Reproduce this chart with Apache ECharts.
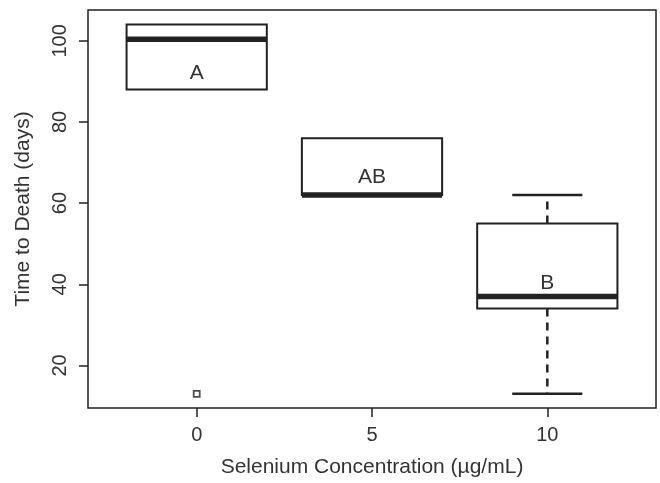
<!DOCTYPE html>
<html>
<head>
    <meta charset="utf-8">
    <title>Time to Death by Selenium Concentration</title>
    <style type="text/css">
        html, body { margin: 0; padding: 0; background: #fff; }
        #page { width: 660px; height: 483px; }
    </style>
</head>
<body>

<div id="page"></div>

<script src="https://cdn.jsdelivr.net/npm/echarts@6/dist/echarts.min.js"></script>
<script>
    // 数据：硒浓度分组的箱线图
    var concentrations = [0, 5, 10];
    var whiskerLow = [88, 62, 13];
    var q1 = [88, 62, 34];
    var medians = [100.4, 62, 37];
    var q3 = [104, 76, 55];
    var whiskerHigh = [104, 76, 62];
    var groupLetters = ['A', 'AB', 'B'];
    var letterY = [92, 66.5, 40.2];
    var outliers = [[0, 13]];

    var xTicks = [0, 5, 10];
    var yTicks = [20, 40, 60, 80, 100];

    (function () {
        var ink = '#222';
        var textColor = '#333';
        var font = 'Liberation Sans, Arial, sans-serif';

        var boxData = concentrations.map(function (c, i) {
            return [c, whiskerLow[i], q1[i], medians[i], q3[i], whiskerHigh[i], letterY[i], groupLetters[i]];
        });

        function renderBox(params, api) {
            var x = api.value(0);
            var lo = api.value(1), b1 = api.value(2), med = api.value(3), b3 = api.value(4), hi = api.value(5);
            var half = 2, capHalf = 1;
            var tl = api.coord([x - half, b3]);
            var br = api.coord([x + half, b1]);
            var children = [];

            // 须线（虚线）和端线
            function whisker(from, to) {
                var a = api.coord([x, from]), b = api.coord([x, to]);
                var c1 = api.coord([x - capHalf, to]), c2 = api.coord([x + capHalf, to]);
                children.push({
                    type: 'line',
                    shape: {x1: a[0], y1: a[1], x2: b[0], y2: b[1]},
                    style: {stroke: ink, lineWidth: 2.5, lineDash: [8, 6]}
                });
                children.push({
                    type: 'line',
                    shape: {x1: c1[0], y1: c1[1], x2: c2[0], y2: c2[1]},
                    style: {stroke: ink, lineWidth: 2.5}
                });
            }
            if (hi > b3) whisker(b3, hi);
            if (lo < b1) whisker(b1, lo);

            children.push({
                type: 'rect',
                shape: {x: tl[0], y: tl[1], width: br[0] - tl[0], height: br[1] - tl[1]},
                style: {fill: '#fff', stroke: ink, lineWidth: 2}
            });

            var m1 = api.coord([x - half, med]), m2 = api.coord([x + half, med]);
            children.push({
                type: 'line',
                shape: {x1: m1[0], y1: m1[1], x2: m2[0], y2: m2[1]},
                style: {stroke: ink, lineWidth: 5.5}
            });

            var lp = api.coord([x, api.value(6)]);
            children.push({
                type: 'text',
                x: lp[0],
                y: lp[1],
                style: {
                    text: groupLetters[params.dataIndex],
                    fill: textColor,
                    font: '21px ' + font,
                    align: 'center',
                    verticalAlign: 'middle'
                }
            });

            return {type: 'group', children: children};
        }

        var myChart = echarts.init(document.getElementById('page'));
        var option = {
            animation: false,
            backgroundColor: '#fff',
            grid: {
                left: 88,
                right: 4,
                top: 10,
                bottom: 75,
                show: true,
                borderColor: ink,
                borderWidth: 1.5,
                backgroundColor: 'transparent'
            },
            xAxis: {
                type: 'value',
                min: -3.1,
                max: 13.1,
                name: 'Selenium Concentration (µg/mL)',
                nameLocation: 'middle',
                nameGap: 49,
                nameTextStyle: {fontSize: 21, color: textColor, fontFamily: font},
                axisLine: {show: false, onZero: false},
                splitLine: {show: false},
                axisTick: {
                    show: true,
                    length: 9,
                    customValues: xTicks,
                    lineStyle: {color: ink, width: 1.5}
                },
                axisLabel: {
                    customValues: xTicks,
                    margin: 17,
                    fontSize: 20,
                    color: textColor,
                    fontFamily: font
                }
            },
            yAxis: {
                type: 'value',
                min: 9.5,
                max: 107.6,
                name: 'Time to Death (days)',
                nameLocation: 'middle',
                nameGap: 54,
                nameTextStyle: {fontSize: 21, color: textColor, fontFamily: font},
                axisLine: {show: false, onZero: false},
                splitLine: {show: false},
                axisTick: {
                    show: true,
                    length: 9,
                    customValues: yTicks,
                    lineStyle: {color: ink, width: 1.5}
                },
                axisLabel: {
                    customValues: yTicks,
                    rotate: 90,
                    margin: 18,
                    fontSize: 20,
                    color: textColor,
                    fontFamily: font
                }
            },
            series: [
                {
                    type: 'custom',
                    renderItem: renderBox,
                    data: boxData,
                    encode: {x: 0, y: [1, 5]},
                    silent: true
                },
                {
                    type: 'scatter',
                    data: outliers,
                    symbol: 'rect',
                    symbolSize: 6,
                    itemStyle: {color: '#fff', borderColor: ink, borderWidth: 1.8},
                    silent: true
                }
            ]
        };
        myChart.setOption(option);
    })();
</script>
</body>
</html>
